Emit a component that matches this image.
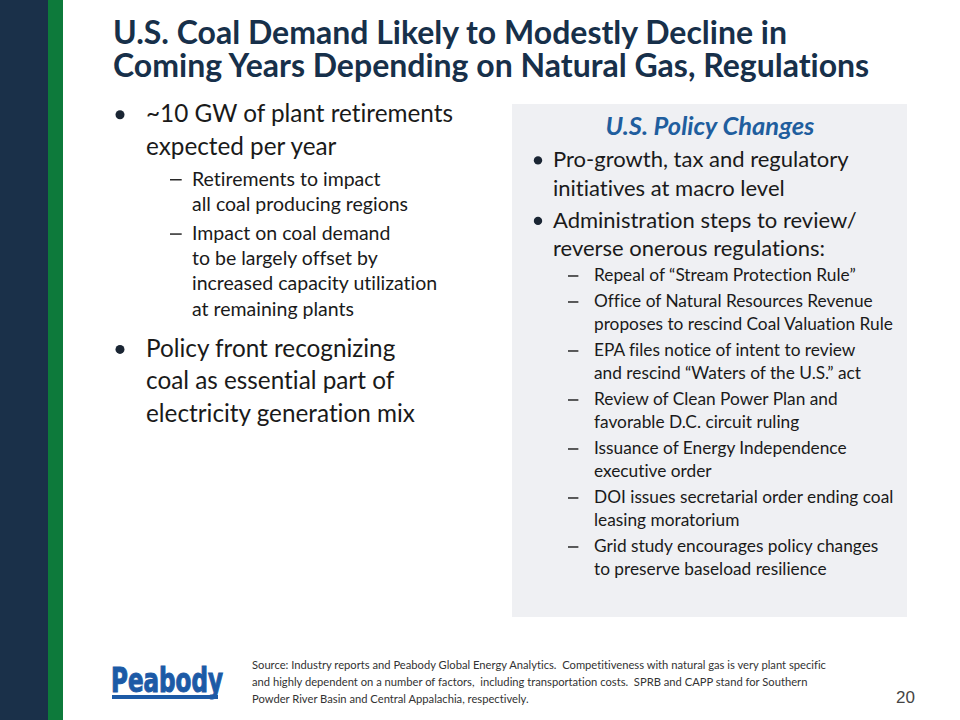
import React from "react";

const titleLines = [
  "U.S. Coal Demand Likely to Modestly Decline in",
  "Coming Years Depending on Natural Gas, Regulations",
];

// level 1 = bullet, level 2 = dash sub-bullet; each entry is one paragraph
const leftParagraphs: { level: number; lines: string[] }[] = [
  { level: 1, lines: ["~10 GW of plant retirements", "expected per year"] },
  { level: 2, lines: ["Retirements to impact", "all coal producing regions"] },
  {
    level: 2,
    lines: [
      "Impact on coal demand",
      "to be largely offset by",
      "increased capacity utilization",
      "at remaining plants",
    ],
  },
  {
    level: 1,
    lines: [
      "Policy front recognizing",
      "coal as essential part of",
      "electricity generation mix",
    ],
  },
];

const boxHeading = "U.S. Policy Changes";

const rightParagraphs: { level: number; lines: string[] }[] = [
  { level: 1, lines: ["Pro-growth, tax and regulatory", "initiatives at macro level"] },
  { level: 1, lines: ["Administration steps to review/", "reverse onerous regulations:"] },
  { level: 2, lines: ["Repeal of \u201cStream Protection Rule\u201d"] },
  {
    level: 2,
    lines: ["Office of Natural Resources Revenue", "proposes to rescind Coal Valuation Rule"],
  },
  {
    level: 2,
    lines: ["EPA files notice of intent to review", "and rescind \u201cWaters of the U.S.\u201d act"],
  },
  { level: 2, lines: ["Review of Clean Power Plan and", "favorable D.C. circuit ruling"] },
  { level: 2, lines: ["Issuance of Energy Independence", "executive order"] },
  { level: 2, lines: ["DOI issues secretarial order ending coal", "leasing moratorium"] },
  { level: 2, lines: ["Grid study encourages policy changes", "to preserve baseload resilience"] },
];

const footerLines = [
  "Source: Industry reports and Peabody Global Energy Analytics.  Competitiveness with natural gas is very plant specific",
  "and highly dependent on a number of factors,  including transportation costs.  SPRB and CAPP stand for Southern",
  "Powder River Basin and Central Appalachia, respectively.",
];

const pageNumber = "20";
const logoText = "Peabody";

const FONT = "Lato, 'Open Sans', sans-serif";
const TEXT = "#1a1a1a";
const NAVY = "#17304a";
const noLig: React.CSSProperties = { fontVariantLigatures: "none", fontFeatureSettings: "'liga' 0, 'clig' 0", whiteSpace: "pre" };

type Cfg = {
  startY: number;
  bulletX: number;
  textX1: number;
  dashX: number;
  textX2: number;
  size: { [k: number]: number };
  lh: { [k: number]: number };
  gap: (prev: number, cur: number) => number;
  dotR: number;
};

function layout(paras: { level: number; lines: string[] }[], cfg: Cfg) {
  const out: { text: string; level: number; y: number; first: boolean }[] = [];
  let y = cfg.startY;
  let prev = 0;
  paras.forEach((p, pi) => {
    p.lines.forEach((t, li) => {
      if (pi === 0 && li === 0) {
        // start
      } else if (li === 0) {
        y += cfg.gap(prev, p.level);
      } else {
        y += cfg.lh[p.level];
      }
      out.push({ text: t, level: p.level, y, first: li === 0 });
    });
    prev = p.level;
  });
  return out;
}

function Block({ paras, cfg }: { paras: { level: number; lines: string[] }[]; cfg: Cfg }) {
  const items = layout(paras, cfg);
  return (
    <g>
      {items.map((it, i) => {
        const x = it.level === 1 ? cfg.textX1 : cfg.textX2;
        const fs = cfg.size[it.level];
        return (
          <g key={i}>
            {it.first && it.level === 1 && (
              <circle cx={cfg.bulletX} cy={it.y - fs * 0.3} r={cfg.dotR} fill="#1a2533" />
            )}
            {it.first && it.level === 2 && (
              <rect x={cfg.dashX} y={it.y - fs * 0.33} width={fs * 0.6} height={1.4} fill={TEXT} />
            )}
            <text x={x} y={it.y} fontSize={fs} fill={TEXT} fontFamily={FONT} style={noLig}>
              {it.text}
            </text>
          </g>
        );
      })}
    </g>
  );
}

export default function App() {
  const leftCfg: Cfg = {
    startY: 122,
    bulletX: 120,
    textX1: 146,
    dashX: 170,
    textX2: 192,
    size: { 1: 24.3, 2: 19.5 },
    lh: { 1: 32.5, 2: 25.3 },
    gap: (prev, cur) => (cur === 1 ? 41 : prev === 1 ? 31 : 29),
    dotR: 4.5,
  };
  const rightCfg: Cfg = {
    startY: 167,
    bulletX: 538,
    textX1: 553,
    dashX: 568,
    textX2: 594,
    size: { 1: 22, 2: 17.3 },
    lh: { 1: 28.5, 2: 23 },
    gap: (prev, cur) => (cur === 1 ? 32 : prev === 1 ? 25 : 26),
    dotR: 4.2,
  };

  return (
    <svg
      width={960}
      height={720}
      style={{ position: "absolute", left: 0, top: 0, background: "#fff" }}
    >
      <rect x={0} y={0} width={960} height={720} fill="#ffffff" />
      <rect x={0} y={0} width={48} height={720} fill="#1a3049" />
      <rect x={48} y={0} width={15} height={720} fill="#0d7a3b" />

      <text fontSize={32} fontWeight={700} fill={NAVY} fontFamily={FONT} style={noLig}>
        {titleLines.map((t, i) => (
          <tspan key={i} x={113} y={44 + i * 33}>
            {t}
          </tspan>
        ))}
      </text>

      <Block paras={leftParagraphs} cfg={leftCfg} />

      <rect x={512} y={104} width={395} height={513} fill="#eff0f3" />
      <text
        x={710}
        y={135}
        textAnchor="middle"
        fontSize={25.5}
        fontWeight={700}
        fontStyle="italic"
        fill="#1f5e9e"
        fontFamily={FONT}
        style={noLig}
      >
        {boxHeading}
      </text>
      <Block paras={rightParagraphs} cfg={rightCfg} />

      {footerLines.map((t, i) => (
        <text key={i} x={252} y={669 + i * 17} fontSize={11.2} fill="#333" fontFamily={FONT} style={noLig}>
          {t}
        </text>
      ))}
      <text x={915} y={703} textAnchor="end" fontSize={17} fill="#444" fontFamily="'Liberation Sans', Arial, sans-serif">
        {pageNumber}
      </text>

      <g>
        <text
          x={111}
          y={692}
          fontSize={33}
          fontWeight={700}
          fill="#1c5aa6"
          stroke="#1c5aa6"
          strokeWidth={1}
          fontFamily="'DejaVu Sans Condensed', 'Liberation Sans Narrow', sans-serif"
          textLength={112}
          lengthAdjust="spacingAndGlyphs"
        >
          {logoText}
        </text>
        <rect x={112} y={695} width={106} height={4} fill="#1c5aa6" />
      </g>
    </svg>
  );
}
